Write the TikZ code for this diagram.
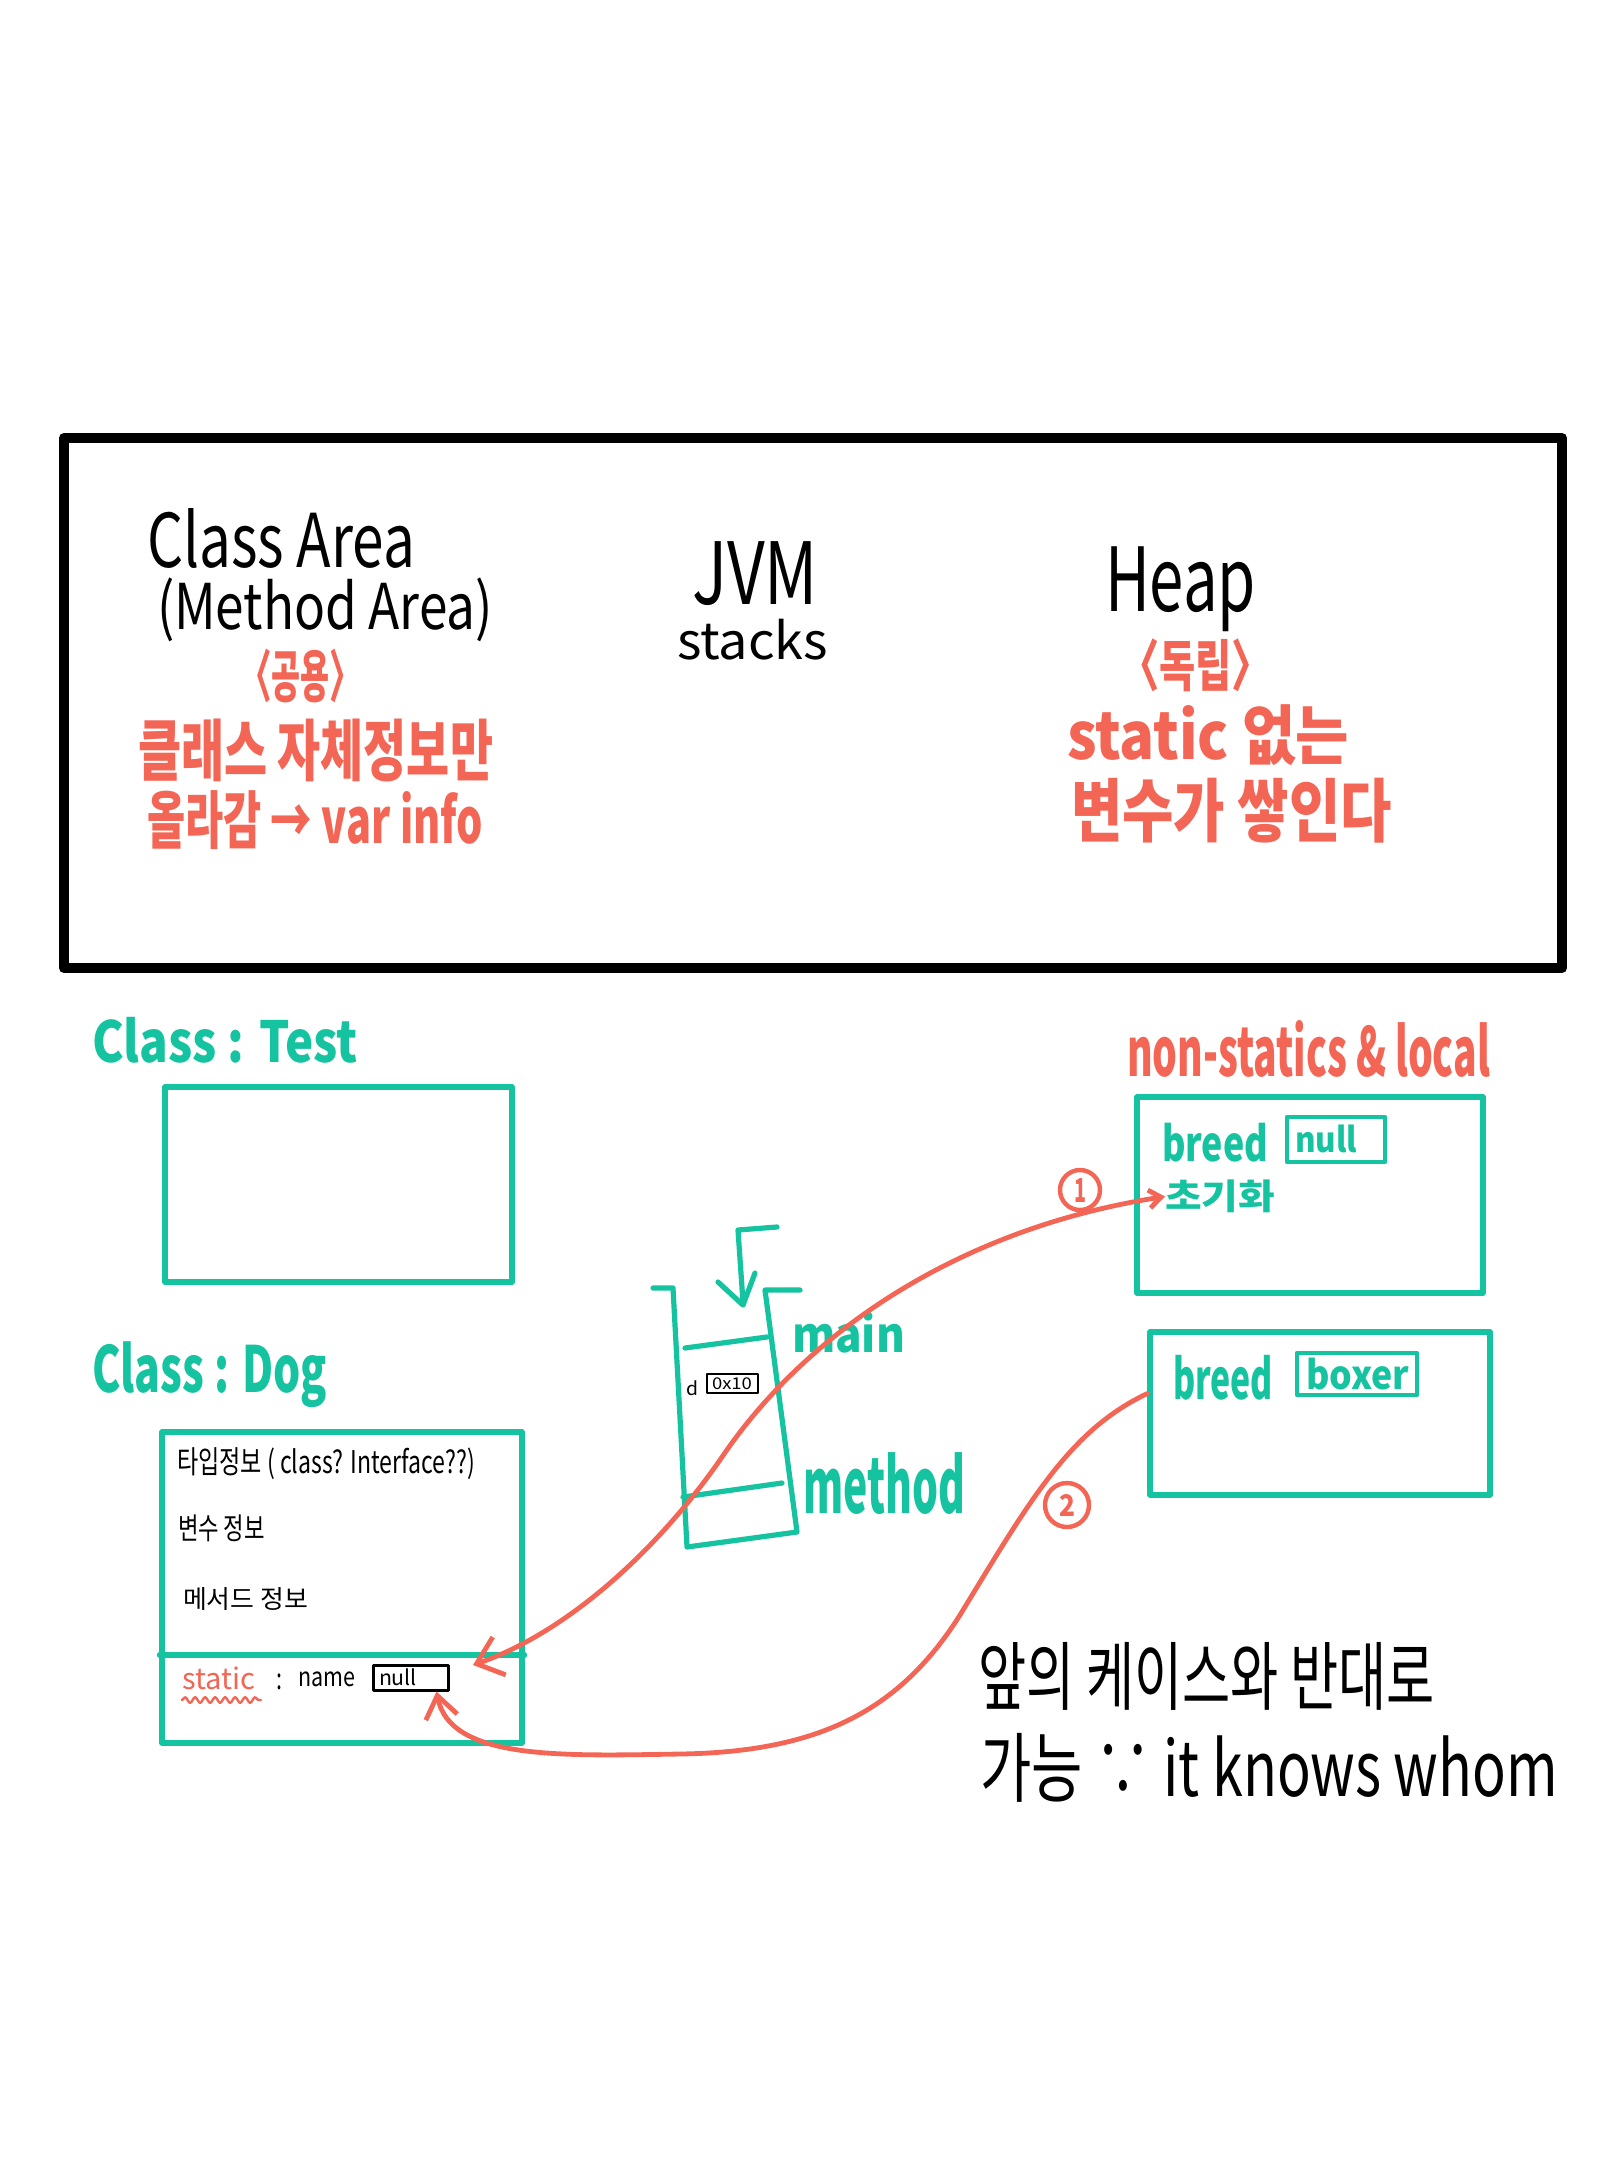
\documentclass[tikz,border=0pt]{standalone}
\usepackage{fontspec}
\setmainfont{Noto Sans CJK KR}
\usepackage{graphicx}
\usetikzlibrary{arrows.meta,fit,decorations.pathmorphing}
\definecolor{tealc}{RGB}{22,195,160}
\definecolor{redc}{RGB}{243,101,84}
\newdimen\pxu \pxu=0.5pt
\newcommand{\fitt}[3]{\resizebox*{#1\pxu}{#2\pxu}{#3}}
\tikzset{
  txt/.style={anchor=north west, inner sep=0pt, outer sep=0pt},
  redtxt/.style={txt, text=redc, font=\bfseries},
  tealtxt/.style={txt, text=tealc, font=\bfseries},
  tealbox/.style={draw=tealc, line width=2.6pt, inner sep=0pt},
  tealline/.style={draw=tealc, line width=2.6pt},
  smallbox/.style={line width=1.5pt, inner sep=0pt},
  redarrow/.style={draw=redc, line width=2.4pt},
  numcirc/.style={circle, draw=redc, line width=2.2pt, text=redc, inner sep=0pt}
}
\begin{document}
\begin{tikzpicture}[x=0.5pt, y=-0.5pt, line cap=round, line join=round]
\useasboundingbox[fill=white] (0,0) rectangle (1620,2160);

% top JVM box
\node[draw=black, line width=5pt, fit={(64,438) (1562,968)}, inner sep=0pt] (jvm) {};
\node[txt] (ca) at (147,508) {\fitt{268}{60}{Class Area}};
\node[txt] (ma) at (157,578) {\fitt{336}{64}{(Method Area)}};
\node[redtxt] (gy) at (240,649) {\fitt{121}{54}{〈공용〉}};
\node[redtxt] (k1) at (138,719) {\fitt{355}{63}{클래스 자체정보만}};
\node[redtxt] (k2) at (147,791) {\fitt{336}{59}{올라감 → var info}};
\node[txt] (jv) at (692,542) {\fitt{126}{64}{JVM}};
\node[txt] (st) at (677,619) {\fitt{151}{41}{stacks}};
\node[txt] (hp) at (1105,547) {\fitt{151}{85}{Heap}};
\node[redtxt] (dr) at (1120,639) {\fitt{151}{53}{〈독립〉}};
\node[redtxt] (h1) at (1067,705) {\fitt{282}{61}{static 없는}};
\node[redtxt] (h2) at (1071,778) {\fitt{321}{65}{변수가 쌓인다}};

% Class Test
\node[tealtxt] (ct) at (92,1017) {\fitt{266}{46}{Class : Test}};
\node[tealbox, fit={(165,1087) (512,1282)}] (testbox) {};

% Class Dog
\node[tealtxt] (cd) at (92,1342) {\fitt{235}{66}{Class : Dog}};
\node[tealbox, fit={(162,1432) (522,1743)}] (dogbox) {};
\coordinate (divy) at (0,1655);
\draw[tealline] (dogbox.west |- divy) -- (dogbox.east |- divy);
\node[txt] (ti) at (177,1448) {\fitt{298}{32}{타입정보 ( class? Interface??)}};
\node[txt] (bs) at (178,1515) {\fitt{87}{27}{변수 정보}};
\node[txt] (ms) at (183,1587) {\fitt{125}{23}{메서드 정보}};
\node[txt,text=redc] (sta) at (182,1667) {\fitt{73}{23}{static}};
\draw[redc, line width=1.2pt, decorate, decoration={snake, amplitude=1.4pt, segment length=5pt}]
  ([yshift=-5pt]sta.south west) -- ([yshift=-5pt,xshift=3pt]sta.south east);
\node[txt] (colon) at (276,1674) {\fitt{6}{16}{:}};
\node[txt] (nm) at (298,1672) {\fitt{57}{15}{name}};
\node[draw=black, smallbox, fit={(373,1665) (448,1690)}] (nullbox) {};
\node[txt] (nl) at (379,1669) {\fitt{38}{17}{null}};

% stack
\draw[tealline] (653,1288) -- (673,1288) -- (687,1547) -- (797,1532) -- (765,1290) -- (800,1290);
\draw[tealline] (685,1348) -- (767,1337);
\draw[tealline] (683,1497) -- (782,1483);
\draw[tealline] (777,1227) -- (738,1230) -- (743,1302);
\draw[tealline] (718,1282) -- (743,1305) -- (755,1273);
\node[txt] (dl) at (686,1381) {\fitt{12}{15}{d}};
\node[draw=black, line width=1.3pt, inner sep=0pt, fit={(707,1374) (758,1393)}] (addr) {};
\node[txt] (ad) at (712,1378) {\fitt{40}{12}{0x10}};
\node[tealtxt] (mn) at (792,1312) {\fitt{113}{41}{main}};
\node[tealtxt] (mt) at (803,1453) {\fitt{162}{62}{method}};

% heap objects
\node[redtxt] (nsl) at (1127,1020) {\fitt{363}{57}{non-statics \& local}};
\node[tealbox, fit={(1137,1097) (1483,1293)}] (heap1) {};
\node[tealtxt] (br1) at (1162,1123) {\fitt{106}{39}{breed}};
\node[draw=tealc, line width=2.2pt, inner sep=0pt, fit={(1287,1117) (1385,1162)}] (nb1) {};
\node[tealtxt] (nv1) at (1295,1125) {\fitt{62}{28}{null}};
\node[tealtxt] (chogi) at (1165,1180) {\fitt{110}{33}{초기화}};
\node[tealbox, fit={(1150,1332) (1490,1495)}] (heap2) {};
\node[tealtxt] (br2) at (1173,1355) {\fitt{100}{45}{breed}};
\node[draw=tealc, line width=2.2pt, inner sep=0pt, fit={(1297,1353) (1417,1395)}] (bb) {};
\node[tealtxt] (bx) at (1306,1358) {\fitt{103}{32}{boxer}};

% numbers
\node[numcirc, minimum size=20pt, font=\bfseries] (c1) at (1080,1190) {\fitt{12}{24}{1}};
\node[numcirc, minimum size=22pt, font=\bfseries] (c2) at (1067,1505) {\fitt{16}{22}{2}};

% arrows
\coordinate (dogtip) at (473,1665);
\draw[redarrow, {Straight Barb[length=12pt,width=20pt]}-{Straight Barb[length=6pt,width=9pt]}]
  (dogtip) .. controls (560,1635) and (650,1560) .. (720,1460)
  .. controls (800,1340) and (950,1230) .. (chogi.west);
\draw[redarrow, -{Straight Barb[length=11pt,width=16pt]}]
  ([yshift=10pt]heap2.west) .. controls (1070,1430) and (1030,1500) .. (960,1615)
  .. controls (900,1710) and (820,1752) .. (680,1754)
  .. controls (560,1756) and (450,1760) .. ([xshift=13pt]nullbox.south);

% bottom note
\node[txt] (b1) at (978,1642) {\fitt{457}{68}{앞의 케이스와 반대로}};
\node[txt] (b2) at (980,1733) {\fitt{578}{69}{가능 ∵ it knows whom}};
\end{tikzpicture}
\end{document}
